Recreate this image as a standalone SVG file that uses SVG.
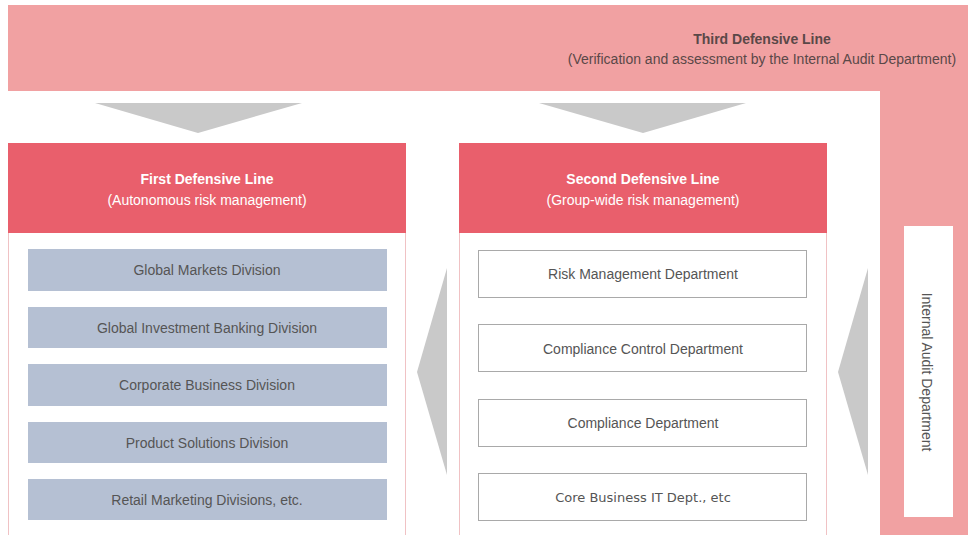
<svg xmlns="http://www.w3.org/2000/svg" width="968" height="535" viewBox="0 0 968 535">
<style>
.band{fill:#f1a1a2}
.panel{fill:#ffffff;stroke:#f0c2c4;stroke-width:1}
.head{fill:#e95f6c}
.arrow{fill:#c9c9c9}
.div{fill:#b5c0d3}
.dept{fill:#ffffff;stroke:#a9a9a9;stroke-width:1}
text{font-family:"Liberation Sans",Arial,sans-serif;font-size:14px;fill:#555555;text-anchor:middle}
.ht{fill:#ffffff}
.b{font-weight:bold}
.dv{font-family:"DejaVu Sans",sans-serif;font-size:13px}
</style>
<rect width="968" height="535" fill="#ffffff"/>
<g id="third-line">
<path class="band" d="M8 5 H968 V535 H880 V91 H8 Z"/>
<text class="b" x="762" y="44" style="fill:#5a4848">Third Defensive Line</text>
<text x="762" y="64" style="fill:#5a4848">(Verification and assessment by the Internal Audit Department)</text>
</g>
<g id="internal-audit">
<rect x="904" y="226" width="49" height="291" fill="#ffffff"/>
<text x="0" y="0" transform="translate(922 372) rotate(90)">Internal Audit Department</text>
</g>
<g id="first-line">
<rect class="panel" x="8.5" y="143.5" width="397" height="400"/>
<rect class="head" x="8" y="143" width="398" height="90"/>
<text class="ht b" x="207" y="184">First Defensive Line</text>
<text class="ht" x="207" y="205">(Autonomous risk management)</text>
</g>
<g id="global-markets"><rect class="div" x="28" y="249" width="359" height="42"/><text x="207" y="275">Global Markets Division</text></g>
<g id="global-investment"><rect class="div" x="28" y="307" width="359" height="41"/><text x="207" y="333">Global Investment Banking Division</text></g>
<g id="corporate"><rect class="div" x="28" y="364" width="359" height="42"/><text x="207" y="390">Corporate Business Division</text></g>
<g id="product"><rect class="div" x="28" y="422" width="359" height="41"/><text x="207" y="448">Product Solutions Division</text></g>
<g id="retail"><rect class="div" x="28" y="479" width="359" height="41"/><text x="207" y="505">Retail Marketing Divisions, etc.</text></g>
<g id="second-line">
<rect class="panel" x="459.5" y="143.5" width="367" height="400"/>
<rect class="head" x="459" y="143" width="368" height="90"/>
<text class="ht b" x="643" y="184">Second Defensive Line</text>
<text class="ht" x="643" y="205">(Group-wide risk management)</text>
</g>
<g id="risk-mgmt"><rect class="dept" x="478.5" y="250.5" width="328" height="47"/><text x="643" y="279">Risk Management Department</text></g>
<g id="compliance-control"><rect class="dept" x="478.5" y="324.5" width="328" height="47"/><text x="643" y="354">Compliance Control Department</text></g>
<g id="compliance"><rect class="dept" x="478.5" y="399.5" width="328" height="47"/><text x="643" y="428">Compliance Department</text></g>
<g id="core-it"><rect class="dept" x="478.5" y="473.5" width="328" height="47"/><text class="dv" x="643" y="502">Core Business IT Dept., etc</text></g>
<g id="connectors">
<polygon class="arrow" points="95,103 302,103 198,133"/>
<polygon class="arrow" points="539,103 746,103 643,133"/>
<polygon class="arrow" points="447,268 447,475 417,372"/>
<polygon class="arrow" points="868,268 868,475 838,372"/>
</g>
</svg>
